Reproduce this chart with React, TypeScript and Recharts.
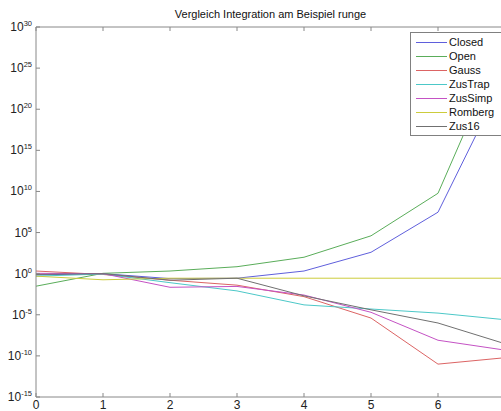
import { Legend, Line, LineChart, XAxis, YAxis } from 'recharts';

// step index of the integration rules (0..7)
const steps = [0, 1, 2, 3, 4, 5, 6, 7];

// absolute error per method
const closed = [0.7, 1.0, 0.25, 0.28, 2.1, 400, 3e7, 1e24];
const open = [0.03, 1.1, 2.1, 7, 100, 4e4, 6e9, 3e28];
const gauss = [2.1, 0.8, 0.16, 0.04, 1.6e-3, 4e-6, 1e-11, 6e-11];
const zusTrap = [0.5, 0.9, 0.08, 8e-3, 1.6e-4, 5e-5, 1.6e-5, 2.5e-6];
const zusSimp = [1.1, 1.0, 0.022, 0.028, 2.5e-3, 2e-5, 8e-9, 5e-10];
const romberg = [0.5, 0.18, 0.28, 0.28, 0.28, 0.28, 0.28, 0.28];
const zus16 = [0.8, 1.0, 0.16, 0.28, 2e-3, 4e-5, 1e-6, 3e-9];

const xTicks = [0, 1, 2, 3, 4, 5, 6, 7];
const yTicks = [1e-15, 1e-10, 1e-5, 1, 1e5, 1e10, 1e15, 1e20, 1e25, 1e30];

const title = 'Vergleich Integration am Beispiel runge';

const series = [
  { name: 'Closed', values: closed, color: '#5f5fdc' },
  { name: 'Open', values: open, color: '#5aad5a' },
  { name: 'Gauss', values: gauss, color: '#dc6464' },
  { name: 'ZusTrap', values: zusTrap, color: '#4cc8c8' },
  { name: 'ZusSimp', values: zusSimp, color: '#c452c4' },
  { name: 'Romberg', values: romberg, color: '#cccc3c' },
  { name: 'Zus16', values: zus16, color: '#707070' },
];
const seriesOrder = series.map((s) => s.name);

const data = steps.map((x, i) => {
  const row: Record<string, number> = { x };
  series.forEach((s) => {
    row[s.name] = s.values[i];
  });
  return row;
});

const FONT = '"Liberation Sans", Arial, Helvetica, sans-serif';
const AXIS = '#888888';

function PowerTick({ x, y, payload }: any) {
  const exp = Math.round(Math.log10(payload.value));
  return (
    <text x={x} y={y} dy={4} textAnchor="end" fontSize={12} fill="#222" fontFamily={FONT}>
      10
      <tspan dy={-5} fontSize={7.5}>
        {exp}
      </tspan>
    </text>
  );
}

function StepTick({ x, y, payload }: any) {
  return (
    <text x={x} y={y} dy={7.5} textAnchor="middle" fontSize={12} fill="#222" fontFamily={FONT}>
      {payload.value}
    </text>
  );
}

const NoTick = () => <g />;

function LegendBox({ payload }: any) {
  // keep the plotting order instead of the alphabetical one
  const items = [...(payload || [])].sort(
    (a: any, b: any) => seriesOrder.indexOf(a.value) - seriesOrder.indexOf(b.value),
  );
  return (
    <div
      style={{
        border: '1px solid #808080',
        background: '#fff',
        padding: '2px 0 2px 5px',
        width: 95,
        fontFamily: FONT,
        fontSize: 11,
        color: '#111',
        boxSizing: 'border-box',
      }}
    >
      {items.map((p: any) => (
        <div key={p.value} style={{ display: 'flex', alignItems: 'center', height: 14 }}>
          <span style={{ width: 31, height: 0, borderTop: `1px solid ${p.color}`, marginRight: 2 }} />
          <span>{p.value}</span>
        </div>
      ))}
    </div>
  );
}

export default function App() {
  return (
    <div
      style={{
        position: 'fixed',
        left: 0,
        top: 0,
        width: 501,
        height: 411,
        overflow: 'hidden',
        background: '#fff',
      }}
    >
      <div
        style={{
          position: 'absolute',
          left: 36,
          width: 469,
          top: 8,
          textAlign: 'center',
          fontFamily: FONT,
          fontSize: 11,
          color: '#111',
          zIndex: 2,
        }}
      >
        {title}
      </div>
      <LineChart width={520} height={411} data={data} margin={{ top: 26, right: 14, bottom: 0, left: 0 }}>
        <XAxis
          xAxisId="b"
          dataKey="x"
          type="number"
          domain={[0, 7]}
          ticks={xTicks}
          height={14}
          stroke={AXIS}
          tickSize={-4}
          tickMargin={8}
          tick={<StepTick />}
        />
        <XAxis
          xAxisId="t"
          orientation="top"
          type="number"
          domain={[0, 7]}
          ticks={xTicks}
          height={1}
          stroke={AXIS}
          tickSize={-4}
          tick={<NoTick />}
        />
        <YAxis
          yAxisId="l"
          scale="log"
          type="number"
          domain={[1e-15, 1e30]}
          ticks={yTicks}
          width={36}
          stroke={AXIS}
          tickSize={-4}
          tickMargin={8}
          tick={<PowerTick />}
          allowDataOverflow
        />
        <YAxis
          yAxisId="r"
          orientation="right"
          scale="log"
          type="number"
          domain={[1e-15, 1e30]}
          ticks={yTicks}
          width={1}
          stroke={AXIS}
          tickSize={-4}
          tick={<NoTick />}
          allowDataOverflow
        />
        {series.map((s) => (
          <Line
            key={s.name}
            xAxisId="b"
            yAxisId="l"
            type="linear"
            dataKey={s.name}
            name={s.name}
            stroke={s.color}
            strokeWidth={1}
            dot={false}
            activeDot={false}
            isAnimationActive={false}
          />
        ))}
        <Legend
          layout="vertical"
          align="center"
          verticalAlign="middle"
          content={<LegendBox />}
          wrapperStyle={{ left: 410, top: 32, width: 100, height: 104 }}
        />
      </LineChart>
    </div>
  );
}
